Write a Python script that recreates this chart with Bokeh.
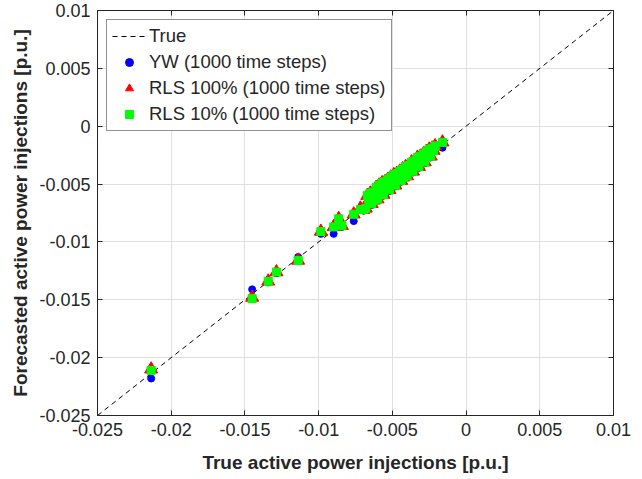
from bokeh.plotting import figure
from bokeh.models import (Range1d, FixedTicker, LinearAxis, CustomJSTickFormatter,
                          Legend, LegendItem, ColumnDataSource, Grid)
from bokeh.embed import file_html
from bokeh.resources import INLINE

# ---------------- data ----------------
tick_values = [-0.025, -0.02, -0.015, -0.01, -0.005, 0, 0.005, 0.01]
tick_labels = ["-0.025", "-0.02", "-0.015", "-0.01", "-0.005", "0", "0.005", "0.01"]

true_line = [-0.025, 0.01]

true_vals = [
    -0.02136, -0.01451, -0.01342, -0.01286, -0.01139, -0.00985, -0.00898, -0.00864,
    -0.00842, -0.00762, -0.00717, -0.00695,
    -0.0068, -0.0067, -0.0066, -0.0065, -0.0064, -0.0063, -0.0062, -0.0061, -0.0060,
    -0.0059, -0.0058, -0.0057, -0.0056, -0.0055, -0.0054, -0.0053, -0.0052, -0.0051,
    -0.0050, -0.0049, -0.0048, -0.0047, -0.0046, -0.0045, -0.0044, -0.0043, -0.0042,
    -0.0041, -0.0040, -0.0039, -0.0038, -0.0037, -0.0036, -0.0035, -0.0034, -0.0033,
    -0.0032, -0.0031, -0.0030, -0.0029, -0.0028, -0.0027, -0.0026, -0.0025, -0.0024,
    -0.0023, -0.0022, -0.0021,
    -0.00655, -0.00605, -0.00555, -0.00505, -0.00455, -0.00405, -0.00355, -0.00305,
    -0.00255,
    -0.00625, -0.00525, -0.00425, -0.00325,
    -0.00160,
]
yw_vals = [
    -0.0218, -0.0141, -0.0135, -0.0127, -0.0113, -0.0093, -0.0093, -0.0081,
    -0.0087, -0.0082, -0.0071, -0.0073,
    -0.0072, -0.0061, -0.0067, -0.0059, -0.0068, -0.0058, -0.0061, -0.0054, -0.0064,
    -0.0052, -0.0056, -0.0050, -0.0060, -0.0049, -0.0054, -0.0047, -0.0056, -0.0045,
    -0.0050, -0.0043, -0.0052, -0.0042, -0.0046, -0.0040, -0.0048, -0.0038, -0.0042,
    -0.0036, -0.0044, -0.0035, -0.0038, -0.0032, -0.0040, -0.0031, -0.0034, -0.0028,
    -0.0036, -0.0027, -0.0030, -0.0025, -0.0032, -0.0023, -0.0026, -0.0021, -0.0027,
    -0.0020, -0.0022, -0.0018,
    -0.0064, -0.0059, -0.0053, -0.0048, -0.0043, -0.0039, -0.0034, -0.0029,
    -0.0024,
    -0.0065, -0.0055, -0.0045, -0.0035,
    -0.00186,
]
rls100_vals = [
    -0.0210, -0.0148, -0.0134, -0.0126, -0.0116, -0.0091, -0.0087, -0.0080,
    -0.0086, -0.0076, -0.0071, -0.0072,
    -0.0071, -0.0060, -0.0066, -0.0058, -0.0067, -0.0057, -0.0060, -0.0053, -0.0063,
    -0.0051, -0.0055, -0.0049, -0.0059, -0.0048, -0.0053, -0.0046, -0.0055, -0.0044,
    -0.0049, -0.0042, -0.0051, -0.0041, -0.0045, -0.0039, -0.0047, -0.0037, -0.0041,
    -0.0035, -0.0043, -0.0034, -0.0037, -0.0031, -0.0039, -0.0030, -0.0033, -0.0027,
    -0.0035, -0.0026, -0.0029, -0.0024, -0.0031, -0.0022, -0.0025, -0.0020, -0.0026,
    -0.0019, -0.0021, -0.0017,
    -0.0063, -0.0058, -0.0052, -0.0047, -0.0042, -0.0038, -0.0033, -0.0028,
    -0.0023,
    -0.0064, -0.0054, -0.0044, -0.0034,
    -0.00138,
]
rls10_vals = [
    -0.0211, -0.0149, -0.0134, -0.0126, -0.0116, -0.0091, -0.0087, -0.0080,
    -0.0086, -0.0076, -0.0072, -0.0072,
    -0.0071, -0.0060, -0.0066, -0.0058, -0.0067, -0.0057, -0.0060, -0.0053, -0.0063,
    -0.0051, -0.0055, -0.0049, -0.0059, -0.0048, -0.0053, -0.0046, -0.0055, -0.0044,
    -0.0049, -0.0042, -0.0051, -0.0041, -0.0045, -0.0039, -0.0047, -0.0037, -0.0041,
    -0.0035, -0.0043, -0.0034, -0.0037, -0.0031, -0.0039, -0.0030, -0.0033, -0.0027,
    -0.0035, -0.0026, -0.0029, -0.0024, -0.0031, -0.0022, -0.0025, -0.0020, -0.0026,
    -0.0019, -0.0021, -0.0017,
    -0.0063, -0.0058, -0.0052, -0.0047, -0.0042, -0.0038, -0.0033, -0.0028,
    -0.0023,
    -0.0064, -0.0054, -0.0044, -0.0034,
    -0.00140,
]

series_names = ["True", "YW (1000 time steps)", "RLS 100% (1000 time steps)",
                "RLS 10% (1000 time steps)"]
x_label = "True active power injections [p.u.]"
y_label = "Forecasted active power injections [p.u.]"

# ---------------- figure ----------------
FONT = "Liberation Sans"
AX = "#262626"

p = figure(width=642, height=479, output_backend="svg", toolbar_location=None,
           x_range=Range1d(-0.025, 0.01), y_range=Range1d(-0.025, 0.01),
           min_border_left=97, min_border_right=29, min_border_top=10,
           min_border_bottom=64, x_axis_type=None, y_axis_type=None)
p.background_fill_color = "white"
p.border_fill_color = "white"
p.outline_line_color = AX
p.outline_line_width = 1

fmt = CustomJSTickFormatter(args=dict(vals=tick_values, labs=tick_labels), code="""
    let best = 0, d = Infinity;
    for (let i = 0; i < vals.length; i++) {
        const dd = Math.abs(vals[i] - tick);
        if (dd < d) { d = dd; best = i; }
    }
    return labs[best];
""")


def make_axis(show_labels, label=None, label_standoff=8):
    ax = LinearAxis(ticker=FixedTicker(ticks=tick_values), formatter=fmt)
    ax.axis_line_color = AX
    ax.major_tick_line_color = AX
    ax.major_tick_in = 5
    ax.major_tick_out = 0
    ax.minor_tick_line_color = None
    if show_labels:
        ax.major_label_text_font = FONT
        ax.major_label_text_font_size = "18px"
        ax.major_label_text_color = AX
        ax.major_label_standoff = 7
        ax.axis_label = label
        ax.axis_label_text_font = FONT
        ax.axis_label_text_font_size = "19px"
        ax.axis_label_text_font_style = "bold"
        ax.axis_label_text_color = AX
        ax.axis_label_standoff = label_standoff
    else:
        ax.major_label_text_font_size = "1px"
        ax.major_label_text_color = None
        ax.major_label_standoff = 0
    return ax


xb = make_axis(True, x_label, 13)
yl = make_axis(True, y_label, 5)
xt = make_axis(False)
yr = make_axis(False)
p.add_layout(xb, "below")
p.add_layout(yl, "left")
p.add_layout(xt, "above")
p.add_layout(yr, "right")

for dim, ax in ((0, xb), (1, yl)):
    p.add_layout(Grid(dimension=dim, ticker=ax.ticker, grid_line_color="#dfdfdf",
                      grid_line_width=1))

src = ColumnDataSource(dict(x=true_vals, yw=yw_vals, r100=rls100_vals, r10=rls10_vals))

l_true = p.line(true_line, true_line, line_color="black", line_width=1, line_dash="5 4")
r_yw = p.scatter("x", "yw", source=src, marker="circle", size=7,
                 fill_color="#0000ff", line_color="#0000ff")
r_100 = p.scatter("x", "r100", source=src, marker="triangle", size=13,
                  fill_color="#ff0000", line_color="#ff0000")
r_10 = p.scatter("x", "r10", source=src, marker="square", size=8,
                 fill_color="#00ff00", line_color="#00ff00")

legend = Legend(items=[
    LegendItem(label=series_names[0], renderers=[l_true]),
    LegendItem(label=series_names[1], renderers=[r_yw]),
    LegendItem(label=series_names[2], renderers=[r_100]),
    LegendItem(label=series_names[3], renderers=[r_10]),
], location="top_left")
legend.margin = 9
legend.padding = 5
legend.spacing = 4
legend.glyph_width = 34
legend.glyph_height = 20
legend.label_height = 20
legend.label_standoff = 3
legend.label_text_font = FONT
legend.label_text_font_size = "18.5px"
legend.label_text_color = AX
legend.border_line_color = AX
legend.border_line_width = 1
legend.background_fill_color = "white"
legend.background_fill_alpha = 1
p.add_layout(legend)

open("out.html", "w").write(file_html(p, INLINE))
